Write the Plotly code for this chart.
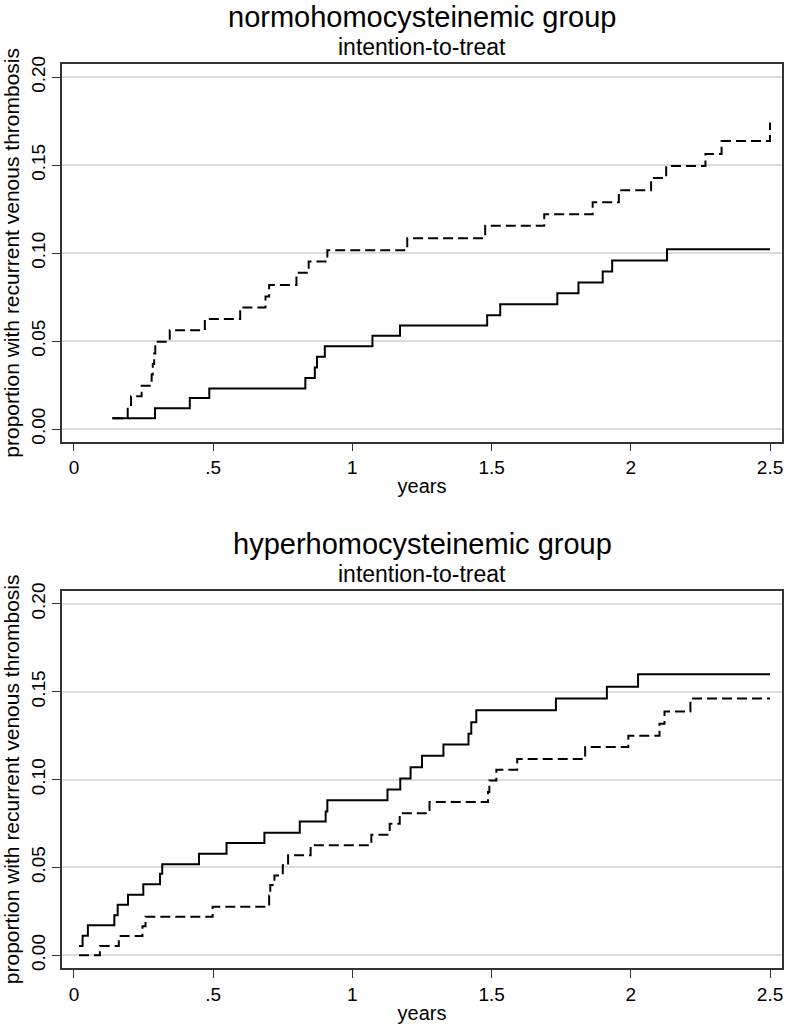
import plotly.graph_objects as go

# ---------------- data ----------------
# Top panel: normohomocysteinemic group
normo_dash_t = [0.141, 0.193, 0.205, 0.243, 0.279, 0.283, 0.288, 0.292, 0.344, 0.470,
                0.597, 0.688, 0.701, 0.799, 0.843, 0.910, 1.197, 1.477, 1.689, 1.863,
                1.957, 2.073, 2.127, 2.268, 2.326, 2.5]
normo_dash_y = [0.0061, 0.0123, 0.0186, 0.0246, 0.031, 0.037, 0.043, 0.0496, 0.0562, 0.0626,
                0.0691, 0.0753, 0.0819, 0.0888, 0.0952, 0.1016, 0.1085, 0.1155, 0.1221, 0.1289,
                0.1357, 0.1427, 0.1495, 0.1563, 0.1637, 0.1742]

normo_solid_t = [0.137, 0.291, 0.416, 0.486, 0.831, 0.865, 0.873, 0.901, 1.072, 1.171,
                 1.484, 1.531, 1.736, 1.812, 1.899, 1.933, 2.130, 2.5]
normo_solid_y = [0.0061, 0.0118, 0.0176, 0.0231, 0.029, 0.035, 0.0411, 0.047, 0.053, 0.0589,
                 0.0647, 0.071, 0.0772, 0.0833, 0.0895, 0.0958, 0.1022, 0.1022]

# Bottom panel: hyperhomocysteinemic group
hyper_solid_t = [0.018, 0.031, 0.050, 0.145, 0.157, 0.194, 0.249, 0.309, 0.317, 0.449,
                 0.548, 0.684, 0.811, 0.904, 0.910, 1.126, 1.172, 1.209, 1.250, 1.327,
                 1.417, 1.427, 1.445, 1.731, 1.914, 2.026, 2.5]
hyper_solid_y = [0.0053, 0.0112, 0.0171, 0.0228, 0.0288, 0.0345, 0.0404, 0.0465, 0.0519, 0.0578,
                 0.0639, 0.0698, 0.0761, 0.0819, 0.0882, 0.0944, 0.1007, 0.1071, 0.1136, 0.12,
                 0.1261, 0.1327, 0.1394, 0.1462, 0.1528, 0.16, 0.16]

hyper_dash_t = [0.018, 0.093, 0.161, 0.246, 0.257, 0.498, 0.701, 0.705, 0.72, 0.75,
                0.769, 0.850, 1.068, 1.134, 1.170, 1.277, 1.487, 1.492, 1.517, 1.592,
                1.836, 1.991, 2.103, 2.121, 2.214, 2.5]
hyper_dash_y = [0.0, 0.0053, 0.011, 0.0165, 0.022, 0.0277, 0.034, 0.040, 0.0455, 0.0512,
                0.0569, 0.0627, 0.0686, 0.0749, 0.0809, 0.0872, 0.093, 0.0995, 0.1056, 0.1117,
                0.1185, 0.125, 0.1318, 0.1388, 0.1462, 0.1462]

x_tickvals = [0, 0.5, 1, 1.5, 2, 2.5]
x_ticktext = ["0", ".5", "1", "1.5", "2", "2.5"]
y_tickvals = [0, 0.05, 0.10, 0.15, 0.20]
y_ticktext = ["0.00", "0.05", "0.10", "0.15", "0.20"]

titles = ["normohomocysteinemic group", "hyperhomocysteinemic group"]
subtitle = "intention-to-treat"
x_title = "years"
y_title = "proportion with recurrent venous thrombosis"

# ---------------- figure ----------------
FONT = "Liberation Sans, Arial, Helvetica, sans-serif"
W, H = 788, 1026
ML, MR, MT, MB = 62, 4, 64, 58
PH = H - MT - MB

def py(pix):
    return (H - MB - pix) / PH

fig = go.Figure()

def add_step(t, y, dash, xa, ya):
    fig.add_trace(go.Scatter(
        x=t, y=y, mode="lines", line_shape="hv",
        line=dict(color="black", width=2, dash=dash),
        xaxis=xa, yaxis=ya, showlegend=False, hoverinfo="skip"))

add_step(normo_dash_t, normo_dash_y, "10px,5px", "x", "y")
add_step(normo_solid_t, normo_solid_y, "solid", "x", "y")
add_step(hyper_dash_t, hyper_dash_y, "10px,5px", "x2", "y2")
add_step(hyper_solid_t, hyper_solid_y, "solid", "x2", "y2")

xcommon = dict(range=[-0.043, 2.543], tickvals=x_tickvals, ticktext=x_ticktext,
               showgrid=False, zeroline=False, showline=True, mirror=True,
               linecolor="#333", linewidth=1.5, ticks="outside", ticklen=8,
               tickcolor="#333", tickwidth=1,
               tickfont=dict(family=FONT, size=19, color="black"),
               title=dict(text=x_title, font=dict(family=FONT, size=20, color="black"),
                          standoff=2))
ycommon = dict(range=[-0.0072, 0.2075], tickvals=y_tickvals, ticktext=y_ticktext,
               tickangle=-90, showgrid=True, gridcolor="#dcdcdc", gridwidth=1.5,
               zeroline=False, showline=True, mirror=True,
               linecolor="#333", linewidth=1.5, ticks="outside", ticklen=8,
               tickcolor="#333", tickwidth=1,
               tickfont=dict(family=FONT, size=19, color="black"),
               title=dict(text=y_title, font=dict(family=FONT, size=21, color="black"),
                          standoff=4))

top_dom = [py(441.7), 1.0]
bot_dom = [0.0, py(590.7)]

fig.update_layout(
    width=W, height=H,
    margin=dict(l=ML, r=MR, t=MT, b=MB),
    paper_bgcolor="white", plot_bgcolor="white",
    font=dict(family=FONT, color="black"),
    xaxis=dict(xcommon, anchor="y", domain=[0, 1]),
    yaxis=dict(ycommon, anchor="x", domain=top_dom),
    xaxis2=dict(xcommon, anchor="y2", domain=[0, 1]),
    yaxis2=dict(ycommon, anchor="x2", domain=bot_dom),
)

annos = []
for i, offs in enumerate([0, 526.7]):
    annos.append(dict(text=titles[i], xref="paper", yref="paper", x=0.5, y=py(17 + offs),
                      xanchor="center", yanchor="middle", showarrow=False,
                      font=dict(family=FONT, size=29, color="black")))
    annos.append(dict(text=subtitle, xref="paper", yref="paper", x=0.5, y=py(47 + offs),
                      xanchor="center", yanchor="middle", showarrow=False,
                      font=dict(family=FONT, size=23, color="black")))
fig.update_layout(annotations=annos)

fig.write_html("out.html")
